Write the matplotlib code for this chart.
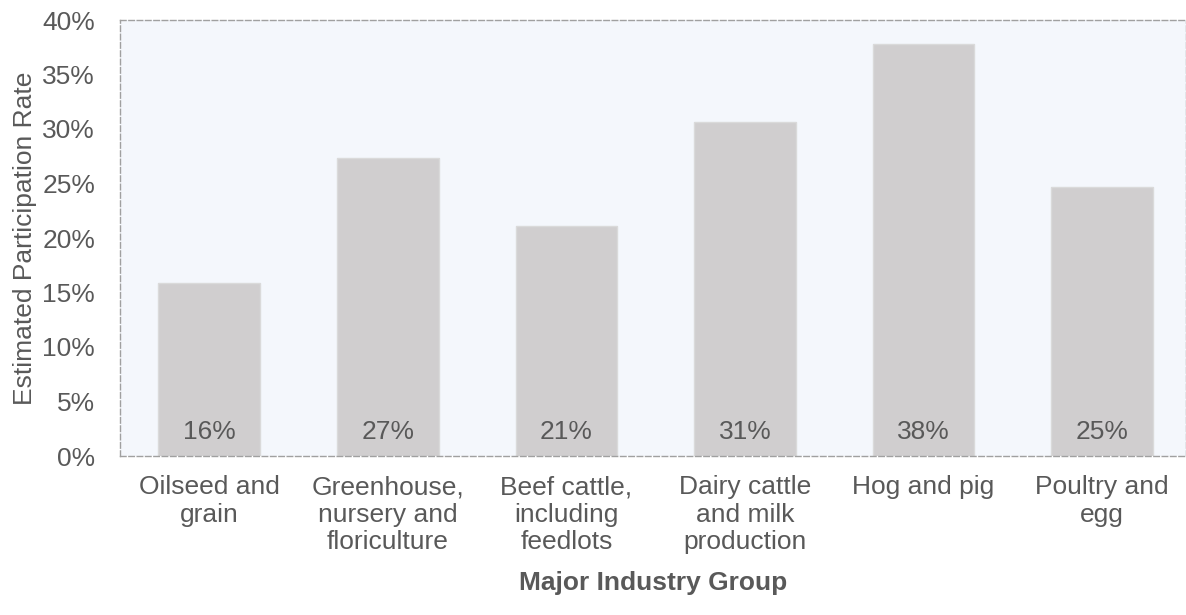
import numpy as np
import matplotlib
matplotlib.use('Agg')
from matplotlib import pyplot as plt
from matplotlib.ticker import PercentFormatter

groups = [
    'Oilseed and\ngrain',
    'Greenhouse,\nnursery and\nfloriculture',
    'Beef cattle,\nincluding\nfeedlots',
    'Dairy cattle\nand milk\nproduction',
    'Hog and pig',
    'Poultry and\negg',
]
rates = [0.159, 0.273, 0.211, 0.306, 0.378, 0.247]

txt = '#595959'
fs = 19
plt.rcParams['font.family'] = ['Liberation Sans', 'DejaVu Sans']
plt.rcParams['font.size'] = fs

fig = plt.figure(figsize=(11.86, 6.15), dpi=100)
ax = fig.add_axes([120 / 1186, 1 - 456 / 615, 1 - 120 / 1186, 436 / 615])
ax.set_facecolor('#F4F7FC')

x = np.arange(len(groups))
ax.bar(x, rates, width=0.57, color='#D0CECF', edgecolor='#DADADA', linewidth=1, zorder=2)

for xi, r in zip(x, rates):
    ax.text(xi, 0.011, f'{r:.0%}', ha='center', va='bottom', color=txt, fontsize=fs, zorder=3)

ax.set_xlim(-0.5, 5.47)
ax.set_ylim(0, 0.40)
ax.set_yticks(np.arange(0, 0.401, 0.05))
ax.yaxis.set_major_formatter(PercentFormatter(1.0, decimals=0))
ax.set_xticks(x)
ax.set_xticklabels(groups, linespacing=1.18)
ax.tick_params(length=0, colors=txt, labelsize=fs)
ax.tick_params(axis='x', pad=14)
ax.tick_params(axis='y', pad=18)

for s in ax.spines.values():
    s.set_linestyle((0, (4, 2)))
    s.set_color('#A0A0A0')
    s.set_linewidth(1)

ax.set_ylabel('Estimated Participation Rate', color=txt, fontsize=fs, labelpad=4)
ax.set_xlabel('Major Industry Group', color=txt, fontsize=fs, fontweight='bold', labelpad=12)

plt.savefig('out.png', dpi=100)
